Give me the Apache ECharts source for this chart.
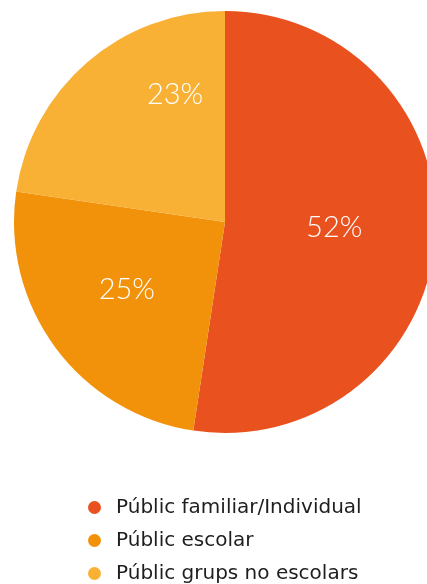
<!DOCTYPE html>
<html>
<head>
<meta charset="utf-8">
<script src="https://cdn.jsdelivr.net/npm/echarts@6/dist/echarts.min.js"></script>
<style>
html,body{margin:0;padding:0;background:#fff;}
#chart{width:427px;height:584px;}
</style>
</head>
<body>
<div id="chart"></div>
<script>
const categories = ['Públic familiar/Individual', 'Públic escolar', 'Públic grups no escolars'];
const values = [52.4, 24.9, 22.7];
const colors = ['#E9511E', '#F1920A', '#F8B134'];
const labelShift = [[1, -3], [-11, 3], [21, -45]];

const chart = echarts.init(document.getElementById('chart'), null, {renderer: 'canvas'});
const LABELFONT = "'Lato', 'Open Sans', sans-serif";
const LEGENDFONT = "'DejaVu Sans', 'Open Sans', sans-serif";
chart.setOption({
  animation: false,
  color: colors,
  legend: {
    orient: 'vertical',
    left: 88,
    top: 497,
    height: 90,
    padding: 0,
    icon: 'circle',
    itemWidth: 13,
    itemHeight: 13,
    itemGap: 12,
    data: categories,
    textStyle: {fontFamily: LEGENDFONT, fontSize: 20, color: '#1e1e1e', lineHeight: 21, padding: [0, 0, 0, 10]}
  },
  series: [{
    type: 'pie',
    center: [225, 222],
    radius: [0, 211],
    startAngle: 90,
    clockwise: true,
    avoidLabelOverlap: false,
    label: {
      show: true,
      position: 'inside',
      formatter: p => Math.round(p.value) + '%',
      color: '#ffffff',
      fontFamily: LABELFONT,
      fontWeight: 300,
      fontSize: 29
    },
    labelLine: {show: false},
    labelLayout: function (p) {
      const s = labelShift[p.dataIndex];
      return {dx: s[0], dy: s[1]};
    },
    itemStyle: {borderWidth: 0},
    emphasis: {disabled: true},
    data: categories.map((c, i) => ({name: c, value: values[i]}))
  }]
});
</script>
</body>
</html>
